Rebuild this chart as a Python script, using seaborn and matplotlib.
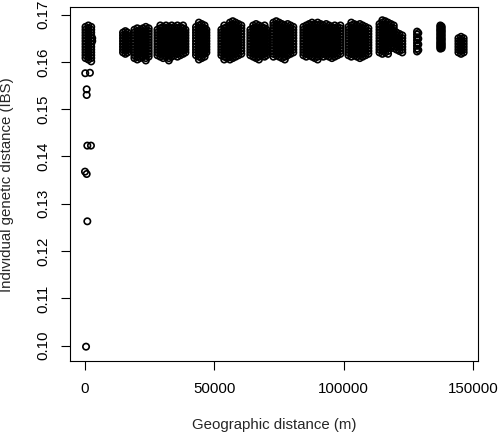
import matplotlib
matplotlib.use("Agg")
import matplotlib.pyplot as plt
import seaborn as sns
import pandas as pd

# pairwise values, grouped by site pair
# each cluster: distances (m) of the point columns and the IBS values in each column
a_dist = [200, 1300, 2400, 2800]
a_ibs = [[0.1674, 0.1668, 0.1662, 0.1656, 0.1650, 0.1644, 0.1638, 0.1632, 0.1626, 0.1620, 0.1614, 0.1608],
         [0.1677, 0.1671, 0.1665, 0.1659, 0.1653, 0.1647, 0.1641, 0.1635, 0.1629, 0.1623, 0.1617, 0.1611, 0.1605],
         [0.1674, 0.1668, 0.1662, 0.1656, 0.1650, 0.1644, 0.1638, 0.1632, 0.1626, 0.1620, 0.1614, 0.1608, 0.1601],
         [0.1650, 0.1644]]

b_dist = [14700, 15600, 16400]
b_ibs = [[0.1662, 0.1656, 0.1650, 0.1644, 0.1638, 0.1632, 0.1626, 0.1620],
         [0.1665, 0.1659, 0.1653, 0.1647, 0.1641, 0.1635, 0.1629, 0.1623, 0.1617],
         [0.1662, 0.1656, 0.1650, 0.1644, 0.1638, 0.1632, 0.1626, 0.1620]]

c_dist = [19100, 20200, 21300, 22400, 23500, 24600]
c_ibs = [[0.1668, 0.1662, 0.1656, 0.1650, 0.1644, 0.1638, 0.1632, 0.1626, 0.1620, 0.1614, 0.1608],
         [0.1671, 0.1665, 0.1659, 0.1653, 0.1647, 0.1641, 0.1635, 0.1629, 0.1623, 0.1617, 0.1611, 0.1605],
         [0.1668, 0.1662, 0.1656, 0.1650, 0.1644, 0.1638, 0.1632, 0.1626, 0.1620, 0.1614, 0.1608],
         [0.1671, 0.1665, 0.1659, 0.1653, 0.1647, 0.1641, 0.1635, 0.1629, 0.1623, 0.1617, 0.1611],
         [0.1674, 0.1668, 0.1662, 0.1656, 0.1650, 0.1644, 0.1638, 0.1632, 0.1626, 0.1620, 0.1614, 0.1608, 0.1603],
         [0.1671, 0.1665, 0.1659, 0.1653, 0.1647, 0.1641, 0.1635, 0.1629, 0.1623, 0.1617, 0.1611]]

d_dist = [28000, 29100, 30200, 31300, 32400, 33500, 34600, 35700, 36800, 37900, 38800]
d_ibs = [[0.1668, 0.1662, 0.1656, 0.1650, 0.1644, 0.1638, 0.1632, 0.1626, 0.1620, 0.1614],
         [0.1677, 0.1671, 0.1665, 0.1659, 0.1653, 0.1647, 0.1641, 0.1635, 0.1629, 0.1623, 0.1617, 0.1611],
         [0.1674, 0.1668, 0.1662, 0.1656, 0.1650, 0.1644, 0.1638, 0.1632, 0.1626, 0.1620, 0.1614, 0.1608],
         [0.1677, 0.1671, 0.1665, 0.1659, 0.1653, 0.1647, 0.1641, 0.1635, 0.1629, 0.1623, 0.1617, 0.1611],
         [0.1674, 0.1668, 0.1662, 0.1656, 0.1650, 0.1644, 0.1638, 0.1632, 0.1626, 0.1620, 0.1614, 0.1608, 0.1603],
         [0.1677, 0.1671, 0.1665, 0.1659, 0.1653, 0.1647, 0.1641, 0.1635, 0.1629, 0.1623, 0.1617, 0.1611],
         [0.1674, 0.1668, 0.1662, 0.1656, 0.1650, 0.1644, 0.1638, 0.1632, 0.1626, 0.1620, 0.1614],
         [0.1677, 0.1671, 0.1665, 0.1659, 0.1653, 0.1647, 0.1641, 0.1635, 0.1629, 0.1623, 0.1617, 0.1611],
         [0.1674, 0.1668, 0.1662, 0.1656, 0.1650, 0.1644, 0.1638, 0.1632, 0.1626, 0.1620, 0.1614],
         [0.1677, 0.1671, 0.1665, 0.1659, 0.1653, 0.1647, 0.1641, 0.1635, 0.1629, 0.1623, 0.1617],
         [0.1668, 0.1662, 0.1656, 0.1650, 0.1644, 0.1638, 0.1632, 0.1626, 0.1620]]

e_dist = [42900, 44000, 45100, 46200, 46900]
e_ibs = [[0.1674, 0.1668, 0.1662, 0.1656, 0.1650, 0.1644, 0.1638, 0.1632, 0.1626, 0.1620, 0.1614],
         [0.1683, 0.1677, 0.1671, 0.1665, 0.1659, 0.1653, 0.1647, 0.1641, 0.1635, 0.1629, 0.1623, 0.1617, 0.1611, 0.1605],
         [0.1680, 0.1674, 0.1668, 0.1662, 0.1656, 0.1650, 0.1644, 0.1638, 0.1632, 0.1626, 0.1620, 0.1614, 0.1608],
         [0.1677, 0.1671, 0.1665, 0.1659, 0.1653, 0.1647, 0.1641, 0.1635, 0.1629, 0.1623, 0.1617, 0.1611],
         [0.1668, 0.1662, 0.1656, 0.1650, 0.1644, 0.1638, 0.1632, 0.1626, 0.1620]]

f_dist = [52700, 53800, 54900, 56000, 57100, 58200, 59300, 60400]
f_ibs = [[0.1668, 0.1662, 0.1656, 0.1650, 0.1644, 0.1638, 0.1632, 0.1626, 0.1620, 0.1614],
         [0.1677, 0.1671, 0.1665, 0.1659, 0.1653, 0.1647, 0.1641, 0.1635, 0.1629, 0.1623, 0.1617, 0.1611, 0.1605],
         [0.1674, 0.1668, 0.1662, 0.1656, 0.1650, 0.1644, 0.1638, 0.1632, 0.1626, 0.1620, 0.1614, 0.1608],
         [0.1683, 0.1677, 0.1671, 0.1665, 0.1659, 0.1653, 0.1647, 0.1641, 0.1635, 0.1629, 0.1623, 0.1617, 0.1611, 0.1605],
         [0.1686, 0.1680, 0.1674, 0.1668, 0.1662, 0.1656, 0.1650, 0.1644, 0.1638, 0.1632, 0.1626, 0.1620, 0.1614, 0.1608],
         [0.1683, 0.1677, 0.1671, 0.1665, 0.1659, 0.1653, 0.1647, 0.1641, 0.1635, 0.1629, 0.1623, 0.1617, 0.1611],
         [0.1680, 0.1674, 0.1668, 0.1662, 0.1656, 0.1650, 0.1644, 0.1638, 0.1632, 0.1626, 0.1620, 0.1614],
         [0.1677, 0.1671, 0.1665, 0.1659, 0.1653, 0.1647, 0.1641, 0.1635, 0.1629, 0.1623, 0.1617]]

g_dist = [63900, 65000, 66100, 67200, 68300, 69400, 70100]
g_ibs = [[0.1668, 0.1662, 0.1656, 0.1650, 0.1644, 0.1638, 0.1632, 0.1626, 0.1620, 0.1614],
         [0.1677, 0.1671, 0.1665, 0.1659, 0.1653, 0.1647, 0.1641, 0.1635, 0.1629, 0.1623, 0.1617, 0.1611],
         [0.1680, 0.1674, 0.1668, 0.1662, 0.1656, 0.1650, 0.1644, 0.1638, 0.1632, 0.1626, 0.1620, 0.1614, 0.1608],
         [0.1677, 0.1671, 0.1665, 0.1659, 0.1653, 0.1647, 0.1641, 0.1635, 0.1629, 0.1623, 0.1617, 0.1611, 0.1605],
         [0.1674, 0.1668, 0.1662, 0.1656, 0.1650, 0.1644, 0.1638, 0.1632, 0.1626, 0.1620, 0.1614],
         [0.1677, 0.1671, 0.1665, 0.1659, 0.1653, 0.1647, 0.1641, 0.1635, 0.1629, 0.1623, 0.1617, 0.1611],
         [0.1668, 0.1662, 0.1656, 0.1650, 0.1644, 0.1638, 0.1632, 0.1626, 0.1620, 0.1614]]

h_dist = [72800, 73900, 75000, 76100, 77200, 78300, 79400, 80500]
h_ibs = [[0.1683, 0.1677, 0.1671, 0.1665, 0.1659, 0.1653, 0.1647, 0.1641, 0.1635, 0.1629, 0.1623, 0.1617, 0.1611],
         [0.1686, 0.1680, 0.1674, 0.1668, 0.1662, 0.1656, 0.1650, 0.1644, 0.1638, 0.1632, 0.1626, 0.1620, 0.1614],
         [0.1683, 0.1677, 0.1671, 0.1665, 0.1659, 0.1653, 0.1647, 0.1641, 0.1635, 0.1629, 0.1623, 0.1617, 0.1611],
         [0.1680, 0.1674, 0.1668, 0.1662, 0.1656, 0.1650, 0.1644, 0.1638, 0.1632, 0.1626, 0.1620, 0.1614, 0.1608],
         [0.1677, 0.1671, 0.1665, 0.1659, 0.1653, 0.1647, 0.1641, 0.1635, 0.1629, 0.1623, 0.1617, 0.1611, 0.1605],
         [0.1680, 0.1674, 0.1668, 0.1662, 0.1656, 0.1650, 0.1644, 0.1638, 0.1632, 0.1626, 0.1620, 0.1614],
         [0.1677, 0.1671, 0.1665, 0.1659, 0.1653, 0.1647, 0.1641, 0.1635, 0.1629, 0.1623, 0.1617],
         [0.1674, 0.1668, 0.1662, 0.1656, 0.1650, 0.1644, 0.1638, 0.1632, 0.1626, 0.1620]]

i_dist = [84400, 85500, 86600, 87700, 88800, 89900, 91000,
          92100, 93200, 94300, 95400, 96500, 97600, 98700]
i_ibs = [[0.1674, 0.1668, 0.1662, 0.1656, 0.1650, 0.1644, 0.1638, 0.1632, 0.1626, 0.1620, 0.1614],
         [0.1677, 0.1671, 0.1665, 0.1659, 0.1653, 0.1647, 0.1641, 0.1635, 0.1629, 0.1623, 0.1617, 0.1611],
         [0.1680, 0.1674, 0.1668, 0.1662, 0.1656, 0.1650, 0.1644, 0.1638, 0.1632, 0.1626, 0.1620, 0.1614],
         [0.1683, 0.1677, 0.1671, 0.1665, 0.1659, 0.1653, 0.1647, 0.1641, 0.1635, 0.1629, 0.1623, 0.1617, 0.1611],
         [0.1680, 0.1674, 0.1668, 0.1662, 0.1656, 0.1650, 0.1644, 0.1638, 0.1632, 0.1626, 0.1620, 0.1614, 0.1608],
         [0.1683, 0.1677, 0.1671, 0.1665, 0.1659, 0.1653, 0.1647, 0.1641, 0.1635, 0.1629, 0.1623, 0.1617, 0.1611, 0.1605],
         [0.1680, 0.1674, 0.1668, 0.1662, 0.1656, 0.1650, 0.1644, 0.1638, 0.1632, 0.1626, 0.1620, 0.1614],
         [0.1677, 0.1671, 0.1665, 0.1659, 0.1653, 0.1647, 0.1641, 0.1635, 0.1629, 0.1623, 0.1617, 0.1611],
         [0.1680, 0.1674, 0.1668, 0.1662, 0.1656, 0.1650, 0.1644, 0.1638, 0.1632, 0.1626, 0.1620, 0.1614],
         [0.1677, 0.1671, 0.1665, 0.1659, 0.1653, 0.1647, 0.1641, 0.1635, 0.1629, 0.1623, 0.1617, 0.1611],
         [0.1674, 0.1668, 0.1662, 0.1656, 0.1650, 0.1644, 0.1638, 0.1632, 0.1626, 0.1620, 0.1614, 0.1608],
         [0.1677, 0.1671, 0.1665, 0.1659, 0.1653, 0.1647, 0.1641, 0.1635, 0.1629, 0.1623, 0.1617, 0.1611],
         [0.1674, 0.1668, 0.1662, 0.1656, 0.1650, 0.1644, 0.1638, 0.1632, 0.1626, 0.1620, 0.1614],
         [0.1677, 0.1671, 0.1665, 0.1659, 0.1653, 0.1647, 0.1641, 0.1635, 0.1629, 0.1623, 0.1617]]

j_dist = [101800, 102900, 104000, 105100, 106200, 107300, 108400, 109500]
j_ibs = [[0.1674, 0.1668, 0.1662, 0.1656, 0.1650, 0.1644, 0.1638, 0.1632, 0.1626, 0.1620, 0.1614],
         [0.1683, 0.1677, 0.1671, 0.1665, 0.1659, 0.1653, 0.1647, 0.1641, 0.1635, 0.1629, 0.1623, 0.1617, 0.1611],
         [0.1680, 0.1674, 0.1668, 0.1662, 0.1656, 0.1650, 0.1644, 0.1638, 0.1632, 0.1626, 0.1620, 0.1614],
         [0.1677, 0.1671, 0.1665, 0.1659, 0.1653, 0.1647, 0.1641, 0.1635, 0.1629, 0.1623, 0.1617, 0.1611],
         [0.1680, 0.1674, 0.1668, 0.1662, 0.1656, 0.1650, 0.1644, 0.1638, 0.1632, 0.1626, 0.1620, 0.1614, 0.1608],
         [0.1677, 0.1671, 0.1665, 0.1659, 0.1653, 0.1647, 0.1641, 0.1635, 0.1629, 0.1623, 0.1617, 0.1611],
         [0.1674, 0.1668, 0.1662, 0.1656, 0.1650, 0.1644, 0.1638, 0.1632, 0.1626, 0.1620, 0.1614],
         [0.1671, 0.1665, 0.1659, 0.1653, 0.1647, 0.1641, 0.1635, 0.1629, 0.1623, 0.1617]]

k_dist = [113800, 114900, 116000, 117100, 118200, 119300, 120400, 121500, 122600]
k_ibs = [[0.1680, 0.1674, 0.1668, 0.1662, 0.1656, 0.1650, 0.1644, 0.1638, 0.1632, 0.1626, 0.1620],
         [0.1688, 0.1683, 0.1677, 0.1671, 0.1665, 0.1659, 0.1653, 0.1647, 0.1641, 0.1635, 0.1629, 0.1623, 0.1617],
         [0.1686, 0.1680, 0.1674, 0.1668, 0.1662, 0.1656, 0.1650, 0.1644, 0.1638, 0.1632, 0.1626, 0.1620],
         [0.1683, 0.1677, 0.1671, 0.1665, 0.1659, 0.1653, 0.1647, 0.1641, 0.1635, 0.1629, 0.1623, 0.1617],
         [0.1680, 0.1674, 0.1668, 0.1662, 0.1656, 0.1650, 0.1644, 0.1638, 0.1632],
         [0.1677, 0.1671, 0.1665, 0.1659, 0.1653, 0.1647, 0.1641, 0.1635, 0.1629],
         [0.1662, 0.1656, 0.1650, 0.1644, 0.1638, 0.1632, 0.1626],
         [0.1659, 0.1653, 0.1647, 0.1641, 0.1635, 0.1629, 0.1623],
         [0.1656, 0.1650, 0.1644, 0.1638, 0.1632, 0.1626, 0.1620]]

l_dist = [128300, 128800]
l_ibs = [[0.1664, 0.1658, 0.1652, 0.1646, 0.1640, 0.1634, 0.1628, 0.1622],
         [0.1661, 0.1649, 0.1637, 0.1625]]

m_dist = [137300, 137800]
m_ibs = [[0.1677, 0.1674, 0.1670, 0.1667, 0.1664, 0.1660, 0.1657, 0.1653, 0.1650, 0.1647,
          0.1643, 0.1640, 0.1637, 0.1634, 0.1631, 0.1628],
         [0.1675, 0.1672, 0.1668, 0.1665, 0.1662, 0.1658, 0.1655, 0.1651, 0.1648, 0.1645,
          0.1641, 0.1638, 0.1635, 0.1632, 0.1629]]

n_dist = [144300, 145300, 146300]
n_ibs = [[0.1650, 0.1644, 0.1638, 0.1632, 0.1626, 0.1620],
         [0.1653, 0.1647, 0.1641, 0.1635, 0.1629, 0.1623, 0.1617],
         [0.1650, 0.1644, 0.1638, 0.1632, 0.1626, 0.1620]]

# the few low within-site values
out_dist = [100, 1900, 650, 650, 900, 2300, 0, 650, 900, 400]
out_ibs = [0.1576, 0.1577, 0.1542, 0.1530, 0.1423, 0.1423, 0.1368, 0.1363, 0.1263, 0.0998]

x_ticks = [0, 50000, 100000, 150000]
x_labels = ["0", "50000", "100000", "150000"]
y_ticks = [0.10, 0.11, 0.12, 0.13, 0.14, 0.15, 0.16, 0.17]
y_labels = ["0.10", "0.11", "0.12", "0.13", "0.14", "0.15", "0.16", "0.17"]

clusters = [(a_dist, a_ibs), (b_dist, b_ibs), (c_dist, c_ibs), (d_dist, d_ibs),
            (e_dist, e_ibs), (f_dist, f_ibs), (g_dist, g_ibs), (h_dist, h_ibs),
            (i_dist, i_ibs), (j_dist, j_ibs), (k_dist, k_ibs), (l_dist, l_ibs),
            (m_dist, m_ibs), (n_dist, n_ibs)]

rows = []
for dists, cols in clusters:
    for d, col in zip(dists, cols):
        for v in col:
            rows.append((d, v))
for d, v in zip(out_dist, out_ibs):
    rows.append((d, v))
df = pd.DataFrame(rows, columns=["geo", "ibs"])

sns.set_style("ticks")
plt.rcParams["font.family"] = ["Liberation Sans", "DejaVu Sans"]

fig = plt.figure(figsize=(5, 4.34), dpi=100)
ax = fig.add_axes([0.14, 0.1682, 0.816, 0.815])

# open circles like R's pch = 1
sns.scatterplot(data=df, x="geo", y="ibs", marker="o", s=21,
                facecolor="none", edgecolor="black", linewidth=1.2, ax=ax)

ax.set_xlim(-5796, 151855)
ax.set_ylim(0.09677, 0.17154)
ax.set_xticks(x_ticks)
ax.set_xticklabels(x_labels, fontsize=10.8)
ax.set_yticks(y_ticks)
ax.set_yticklabels(y_labels, fontsize=10.8, rotation=90, va="center")

for sp in ax.spines.values():
    sp.set_visible(True)
    sp.set_color("black")
    sp.set_linewidth(0.8)
ax.tick_params(axis="both", direction="out", length=6.3, width=0.8, color="black", labelcolor="black")
ax.tick_params(axis="x", pad=8.5)
ax.tick_params(axis="y", pad=7.5)

ax.set_xlabel("Geographic distance (m)", fontsize=10.8)
ax.set_ylabel("Individual genetic distance (IBS)", fontsize=10.8)
ax.xaxis.set_label_coords(0.5, -0.181)
ax.xaxis.label.set_va("center")
ax.yaxis.set_label_coords(-0.1544, 0.5)
ax.yaxis.label.set_va("center")

fig.savefig("out.png", dpi=100)
